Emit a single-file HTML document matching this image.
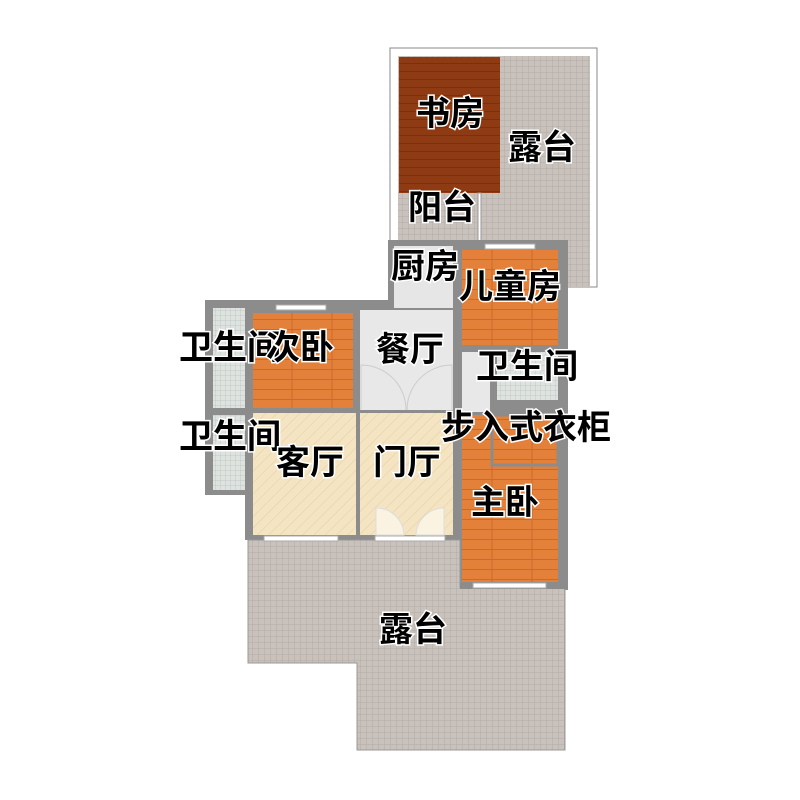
<!DOCTYPE html>
<html><head><meta charset="utf-8"><style>
html,body{margin:0;padding:0;background:#fff}
svg{display:block}
text{font-family:"Liberation Sans","Noto Sans CJK SC",sans-serif;font-weight:bold;font-size:34px;fill:#000;stroke:#fff;stroke-width:3px;paint-order:stroke;text-anchor:middle;dominant-baseline:central}
</style></head><body>
<svg width="800" height="800" viewBox="0 0 800 800" xmlns="http://www.w3.org/2000/svg">
<defs>
<pattern id="tile" width="6" height="6" patternUnits="userSpaceOnUse"><rect width="6" height="6" fill="#c9c2bc"/><path d="M0 0H6M0 0V6" stroke="#b3aaa3" stroke-width="1"/></pattern>
<pattern id="btile" width="5" height="5" patternUnits="userSpaceOnUse"><rect width="5" height="5" fill="#dfe3e0"/><path d="M0 0H5M0 0V5" stroke="#b9c2be" stroke-width="0.8"/></pattern>
<pattern id="wood" width="40" height="10" patternUnits="userSpaceOnUse"><rect width="40" height="10" fill="#e3803a"/><path d="M0 9.5H40M12 0V10" stroke="#cc6a2c" stroke-width="1"/></pattern>
<pattern id="dwood" width="40" height="8" patternUnits="userSpaceOnUse"><rect width="40" height="8" fill="#8e3a12"/><path d="M0 7.5H40" stroke="#7a300e" stroke-width="1"/></pattern>
<pattern id="hatch" width="8" height="8" patternUnits="userSpaceOnUse" patternTransform="rotate(45)"><rect width="8" height="8" fill="#f4e4c2"/><path d="M0 0V8" stroke="#e2cfa8" stroke-width="1"/></pattern>
</defs>
<rect x="390" y="48" width="207" height="239" fill="#fff" stroke="#888" stroke-width="1"/>
<rect x="398" y="56" width="192" height="231" fill="url(#tile)"/>
<rect x="399" y="57" width="101" height="136" fill="url(#dwood)"/>
<rect x="399" y="193" width="80" height="52" fill="url(#tile)"/>
<rect x="478" y="193" width="3" height="50" fill="#fff" stroke="#999"/>
<rect x="388" y="240" width="180" height="350" fill="#8c8c8c"/>
<rect x="245" y="300" width="148" height="240" fill="#8c8c8c"/>
<rect x="205" y="300" width="48" height="195" fill="#8c8c8c"/>
<rect x="394" y="246" width="59" height="62" fill="#e6e6e6"/>
<rect x="462" y="250" width="96" height="95" fill="url(#wood)"/>
<rect x="485" y="244" width="50" height="5" fill="#fff" stroke="#aaa"/>
<rect x="213" y="308" width="32" height="100" fill="url(#btile)"/>
<rect x="253" y="313" width="100" height="95" fill="url(#wood)"/>
<rect x="276" y="305" width="50" height="5" fill="#fff" stroke="#aaa"/>
<rect x="360" y="310" width="93" height="100" fill="#e8e8e8"/>
<rect x="462" y="352" width="28" height="60" fill="#e8e8e8"/>
<rect x="497" y="352" width="61" height="48" fill="url(#btile)"/>
<rect x="213" y="415" width="32" height="75" fill="url(#btile)"/>
<rect x="253" y="413" width="103" height="122" fill="url(#hatch)"/>
<rect x="360" y="413" width="93" height="122" fill="url(#hatch)"/>
<rect x="462" y="415" width="96" height="167" fill="url(#wood)"/>
<rect x="492" y="415" width="66" height="50" fill="url(#wood)" stroke="#8c8c8c" stroke-width="3"/>
<polygon points="248,540 460,540 460,588 565,588 565,750 357,750 357,663 248,663" fill="url(#tile)" stroke="#999" stroke-width="1"/>
<rect x="460" y="583" width="106" height="6" fill="#8c8c8c"/>
<rect x="473" y="583" width="73" height="5" fill="#fff" stroke="#aaa"/>
<rect x="264" y="536" width="74" height="5" fill="#fff" stroke="#aaa"/>
<rect x="375" y="536" width="70" height="5" fill="#fff" stroke="#aaa"/>
<path d="M376 535 V508 A28 28 0 0 1 404 535Z M444 535 V508 A28 28 0 0 0 416 535Z" fill="#fbf3e2" stroke="#ddd"/>
<path d="M361 410 V365 A45 45 0 0 1 406 410 M452 410 V365 A45 45 0 0 0 407 410" fill="none" stroke="#ccc"/>
<text x="450" y="114">书房</text>
<text x="542" y="148">露台</text>
<text x="442" y="208">阳台</text>
<text x="425" y="267">厨房</text>
<text x="510" y="287">儿童房</text>
<text x="230" y="348">卫生间</text>
<text x="300" y="348">次卧</text>
<text x="410" y="350">餐厅</text>
<text x="527" y="367">卫生间</text>
<text x="526" y="428">步入式衣柜</text>
<text x="230" y="437">卫生间</text>
<text x="310" y="463">客厅</text>
<text x="407" y="463">门厅</text>
<text x="505" y="503">主卧</text>
<text x="413" y="630">露台</text>
</svg>
</body></html>
